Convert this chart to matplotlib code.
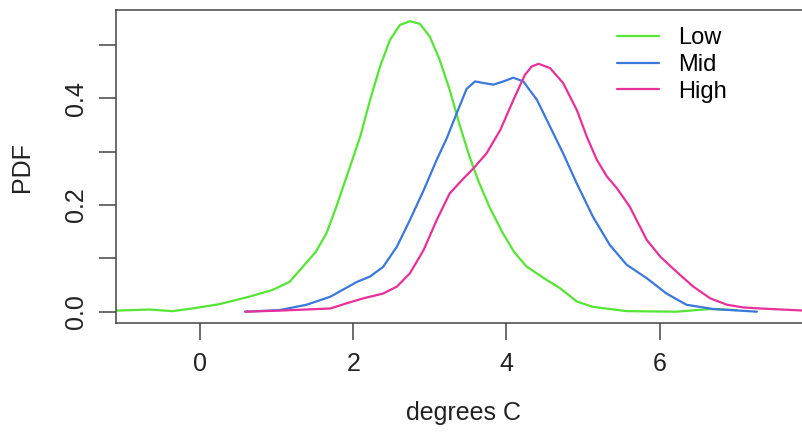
import matplotlib
matplotlib.use("Agg")
import matplotlib.pyplot as plt

plt.rcParams["font.family"] = ["Liberation Sans", "DejaVu Sans"]

# Kernel density estimates of temperature change, by scenario
low_x = [-1.30, -1.10, -0.66, -0.36, -0.10, 0.25, 0.64, 0.95, 1.17, 1.34, 1.51, 1.65,
         1.78, 1.92, 2.09, 2.22, 2.35, 2.48, 2.61, 2.74, 2.87, 3.00, 3.13, 3.26,
         3.39, 3.52, 3.64, 3.78, 3.95, 4.10, 4.26, 4.52, 4.70, 4.92, 5.13, 5.57,
         6.22, 6.66, 7.00]
low_y = [0.001, 0.002, 0.004, 0.001, 0.006, 0.014, 0.028, 0.041, 0.056, 0.084, 0.112, 0.147,
         0.197, 0.256, 0.328, 0.397, 0.460, 0.510, 0.538, 0.545, 0.540, 0.516, 0.472, 0.416,
         0.350, 0.290, 0.243, 0.196, 0.148, 0.112, 0.085, 0.060, 0.044, 0.019, 0.009, 0.001,
         0.000, 0.005, 0.003]

mid_x = [0.59, 1.04, 1.39, 1.70, 2.05, 2.22, 2.39, 2.57, 2.74, 2.92, 3.09, 3.22,
         3.35, 3.48, 3.59, 3.70, 3.83, 3.96, 4.09, 4.22, 4.40, 4.57, 4.74, 4.92,
         5.13, 5.35, 5.57, 5.83, 6.09, 6.35, 6.70, 7.27]
mid_y = [0.000, 0.003, 0.013, 0.028, 0.056, 0.066, 0.084, 0.122, 0.172, 0.228, 0.285, 0.325,
         0.372, 0.418, 0.432, 0.429, 0.426, 0.432, 0.439, 0.432, 0.397, 0.347, 0.297, 0.240,
         0.178, 0.125, 0.088, 0.063, 0.034, 0.013, 0.005, 0.000]

high_x = [0.59, 1.04, 1.70, 1.92, 2.13, 2.39, 2.57, 2.74, 2.92, 3.09, 3.26, 3.44,
          3.57, 3.74, 3.92, 4.09, 4.24, 4.33, 4.42, 4.57, 4.74, 4.92, 5.05, 5.18,
          5.31, 5.44, 5.61, 5.83, 6.01, 6.22, 6.44, 6.66, 6.88, 7.09, 7.31, 7.60,
          7.90, 8.10]
high_y = [0.000, 0.002, 0.006, 0.016, 0.025, 0.034, 0.047, 0.072, 0.116, 0.172, 0.222, 0.250,
          0.269, 0.297, 0.341, 0.397, 0.444, 0.460, 0.465, 0.457, 0.429, 0.378, 0.328, 0.285,
          0.254, 0.232, 0.197, 0.135, 0.103, 0.075, 0.047, 0.025, 0.013, 0.008, 0.006, 0.004,
          0.002, 0.001]

series = [("Low", low_x, low_y, "#55E535"),
          ("Mid", mid_x, mid_y, "#3A78DC"),
          ("High", high_x, high_y, "#E8309A")]

x_ticks = [0, 2, 4, 6]
y_ticks = [0.0, 0.1, 0.2, 0.3, 0.4, 0.5]
y_labels = ["0.0", "", "0.2", "", "0.4", ""]

W, H = 802, 432
fig = plt.figure(figsize=(W / 100, H / 100), dpi=100)
left, right, top, bottom = 116, 810, 10, 323.3
ax = fig.add_axes([left / W, 1 - bottom / H, (right - left) / W, (bottom - top) / H])

for name, xs, ys, col in series:
    ax.plot(xs, ys, color=col, lw=1.6, label=name,
            solid_joinstyle="round", solid_capstyle="round")

ax.set_xlim(-1.097, 7.963)
ax.set_ylim(-0.0218, 0.566)

ax.set_xticks(x_ticks)
ax.set_xticklabels([str(t) for t in x_ticks])
ax.set_yticks(y_ticks)
ax.set_yticklabels(y_labels, rotation=90, va="center")

for s in ax.spines.values():
    s.set_color("#444444")
    s.set_linewidth(1.1)
ax.tick_params(axis="both", length=12, width=1.1, color="#444444",
               labelsize=18, labelcolor="#222222")
ax.tick_params(axis="x", pad=9)
ax.tick_params(axis="y", pad=8)

ax.set_xlabel("degrees C", fontsize=18, color="#222222", labelpad=18)
ax.set_ylabel("PDF", fontsize=18, color="#222222", labelpad=22)

ax.legend(loc="upper left", bbox_to_anchor=(0.708, 0.975), frameon=False,
          fontsize=17, handlelength=1.78, handletextpad=0.8, labelspacing=0.2,
          borderaxespad=0)

fig.savefig("out.png", dpi=100)
